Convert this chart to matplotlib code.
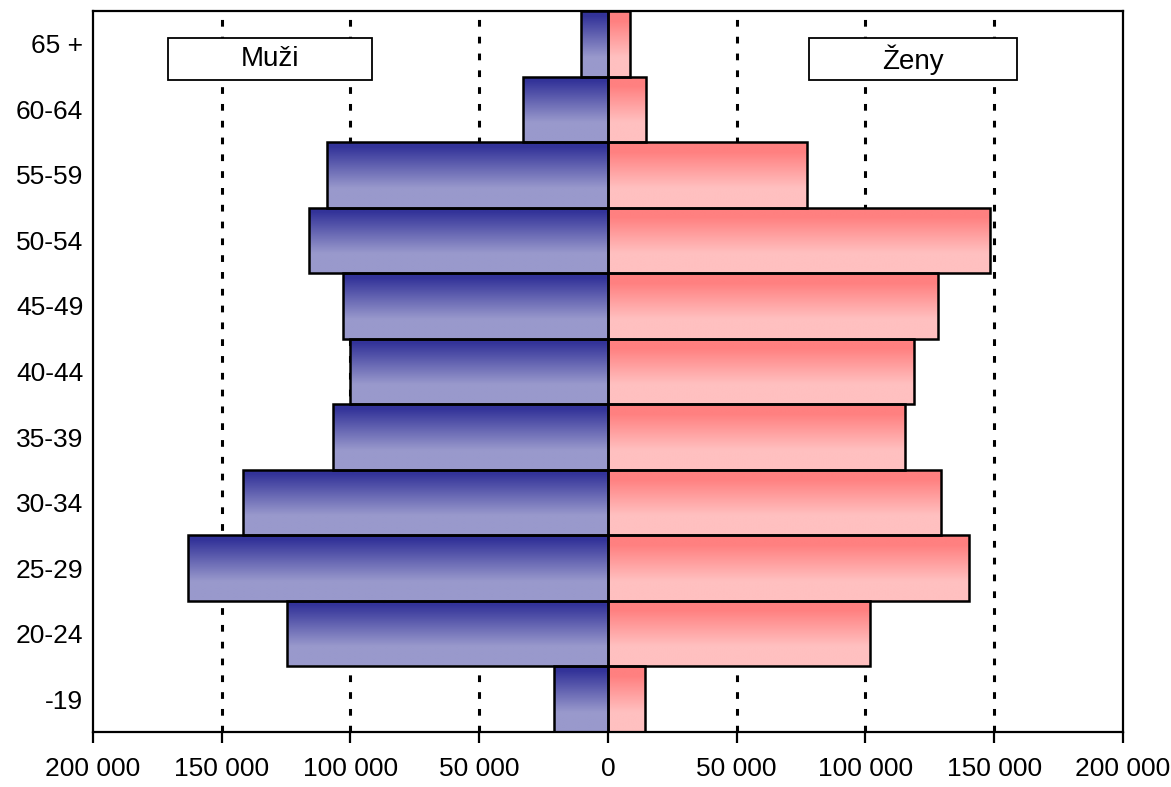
import matplotlib
matplotlib.use("Agg")
import matplotlib.pyplot as plt
import numpy as np
from matplotlib.colors import LinearSegmentedColormap
from matplotlib.patches import Rectangle
from matplotlib.ticker import FuncFormatter

plt.rcParams['font.family'] = ['Liberation Sans Narrow', 'Liberation Sans', 'DejaVu Sans']

# age groups, bottom to top
groups = ["-19", "20-24", "25-29", "30-34", "35-39", "40-44",
          "45-49", "50-54", "55-59", "60-64", "65 +"]
muzi = [21000, 124700, 163000, 141700, 106800, 100000,
        103000, 116000, 109000, 33000, 10500]
zeny = [14400, 101700, 140200, 129300, 115300, 118800,
        128000, 148300, 77300, 14800, 8500]

fig = plt.figure(figsize=(11.71, 7.87), dpi=100)
ax = fig.add_axes([0.0794, 0.0699, 0.8796, 0.9161])

y = np.arange(len(groups))
bars_m = ax.barh(y, [-v for v in muzi], height=1.0, facecolor="none",
                 edgecolor="black", linewidth=1.8, zorder=3)
bars_z = ax.barh(y, zeny, height=1.0, facecolor="none",
                 edgecolor="black", linewidth=1.8, zorder=3)

cmap_m = LinearSegmentedColormap.from_list(
    "m", [(0.0, "#9999cc"), (0.3, "#9999cc"), (0.93, "#333399"), (1.0, "#333399")])
cmap_z = LinearSegmentedColormap.from_list(
    "z", [(0.0, "#ffc0c0"), (0.3, "#ffc0c0"), (0.85, "#ff8080"), (1.0, "#ff8080")])
grad = np.linspace(0, 1, 256).reshape(-1, 1)


def fill_gradient(bars, cmap):
    for b in bars:
        x0, y0 = b.get_x(), b.get_y()
        w, h = b.get_width(), b.get_height()
        im = ax.imshow(grad, cmap=cmap, aspect="auto", origin="lower",
                       extent=[min(x0, x0 + w), max(x0, x0 + w), y0, y0 + h],
                       zorder=2, interpolation="bilinear")
        im.set_clip_path(b)


fill_gradient(bars_m, cmap_m)
fill_gradient(bars_z, cmap_z)

ax.set_xlim(-200000, 200000)
ax.set_ylim(-0.5, len(groups) - 0.5)
ax.set_xticks(np.arange(-200000, 200001, 50000))
ax.xaxis.set_major_formatter(FuncFormatter(
    lambda v, p: "0" if v == 0 else "{:,}".format(int(abs(v))).replace(",", " ")))
ax.set_yticks(y)
ax.set_yticklabels(groups)
ax.tick_params(axis="x", direction="out", length=8, width=1.6, labelsize=19, pad=10)
ax.tick_params(axis="y", length=0, labelsize=19, pad=7)

for gx in [-150000, -100000, -50000, 50000, 100000, 150000]:
    ax.axvline(gx, color="black", linestyle=(0, (2.2, 3.3)), linewidth=2.2, zorder=1)

for s in ax.spines.values():
    s.set_linewidth(1.6)
    s.set_zorder(4)

# label boxes
for x0, x1, txt in [(-170900, -91600, "Muži"), (78000, 159000, "Ženy")]:
    r = Rectangle((x0, 0.904), x1 - x0, 0.0586, transform=ax.get_xaxis_transform(),
                  facecolor="white", edgecolor="black", linewidth=1.3, zorder=5)
    ax.add_patch(r)
    ax.text((x0 + x1) / 2, 0.933, txt, transform=ax.get_xaxis_transform(),
            ha="center", va="center", fontsize=20, zorder=6)

fig.savefig("out.png", dpi=100)
